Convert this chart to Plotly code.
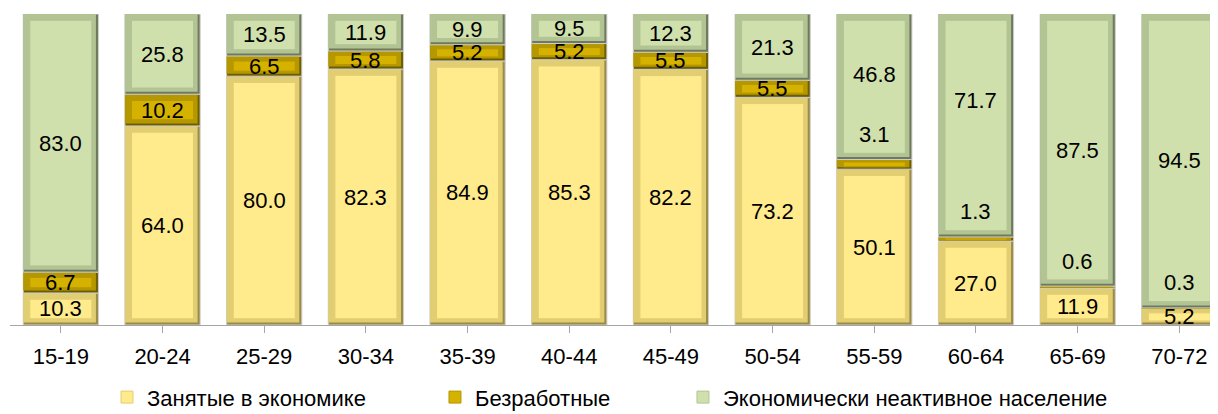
import plotly.graph_objects as go

categories = ["15-19", "20-24", "25-29", "30-34", "35-39", "40-44",
              "45-49", "50-54", "55-59", "60-64", "65-69", "70-72"]
employed = [10.3, 64.0, 80.0, 82.3, 84.9, 85.3, 82.2, 73.2, 50.1, 27.0, 11.9, 5.2]
unemployed = [6.7, 10.2, 6.5, 5.8, 5.2, 5.2, 5.5, 5.5, 3.1, 1.3, 0.6, 0.3]
inactive = [83.0, 25.8, 13.5, 11.9, 9.9, 9.5, 12.3, 21.3, 46.8, 71.7, 87.5, 94.5]
series_names = ["Занятые в экономике", "Безработные", "Экономически неактивное население"]

# label placement tweaks (pixels): unemployed labels moved above tiny segments,
# inactive labels nudged up where needed
unemp_label_above = [False, False, False, False, False, False, False, False, True, True, True, True]
inactive_label_shift = [0, 0, 0, 0, 0, 0, 0, 0, 12, 25, 0, 0]

fills = ["#FFEA8C", "#D6B200", "#D0E0AC"]
frames = ["#E2CE72", "#B59700", "#B2C394"]
shadows = ["#9C8B45", "#6E5E00", "#6F7A5A"]
legend_ids = ["legend", "legend2", "legend3"]

series = [employed, unemployed, inactive]
x = list(range(len(categories)))

FONT_FAMILY = "Liberation Sans Narrow, Arial Narrow, Liberation Sans, Arial, sans-serif"

fig = go.Figure()
bases = [0.0] * len(categories)
all_bases = []
for si, vals in enumerate(series):
    b = list(bases)
    all_bases.append(b)
    # shadow layer (full segment)
    fig.add_trace(go.Bar(
        x=x, y=vals, base=b, width=0.74, offset=-0.37,
        marker=dict(color=shadows[si], line=dict(color="#CFCFCF", width=1)),
        showlegend=False, hoverinfo="skip", legend=legend_ids[si]))
    # frame layer (leaves a dark strip at right and bottom)
    sh = [min(0.8, v * 0.2) for v in vals]
    fig.add_trace(go.Bar(
        x=x, y=[v - s for v, s in zip(vals, sh)], base=[bb + s for bb, s in zip(b, sh)],
        width=0.715, offset=-0.37,
        marker=dict(color=frames[si], line=dict(width=0)),
        showlegend=False, hoverinfo="skip", legend=legend_ids[si]))
    # inner fill
    insets = [min(2.0, v * 0.25) for v in vals]
    fig.add_trace(go.Bar(
        x=x, y=[v - 2 * d for v, d in zip(vals, insets)],
        base=[bb + d for bb, d in zip(b, insets)], width=0.61, offset=-0.305,
        marker=dict(color=fills[si], line=dict(color=frames[si], width=1)),
        name=series_names[si], showlegend=True, legend=legend_ids[si]))
    bases = [bb + v for bb, v in zip(bases, vals)]

font = dict(family=FONT_FAMILY, size=22, color="black")
ann = []
for i in x:
    ann.append(dict(x=i, y=all_bases[0][i] + employed[i] / 2, text=f"{employed[i]:.1f}",
                    showarrow=False, font=font, yanchor="middle"))
    if unemp_label_above[i]:
        ann.append(dict(x=i, y=all_bases[1][i] + unemployed[i], text=f"{unemployed[i]:.1f}",
                        showarrow=False, font=font, yanchor="middle", yshift=25))
    else:
        ann.append(dict(x=i, y=all_bases[1][i] + unemployed[i] / 2, text=f"{unemployed[i]:.1f}",
                        showarrow=False, font=font, yanchor="middle"))
    ann.append(dict(x=i, y=all_bases[2][i] + inactive[i] / 2, text=f"{inactive[i]:.1f}",
                    showarrow=False, font=font, yanchor="middle", yshift=inactive_label_shift[i]))

legend_common = dict(orientation="h", y=-0.300, yanchor="bottom", xanchor="left",
                     font=dict(size=22), itemwidth=30, bgcolor="rgba(0,0,0,0)")

fig.update_layout(
    width=1210, height=406,
    margin=dict(l=2, r=0, t=6, b=89, autoexpand=False),
    barmode="overlay",
    plot_bgcolor="white", paper_bgcolor="white",
    annotations=ann,
    font=dict(family=FONT_FAMILY, size=22, color="black"),
    xaxis=dict(tickmode="array", tickvals=x, ticktext=categories,
               range=[-0.5, 11.38], showline=True, linecolor="#A6A6A6", linewidth=1,
               ticks="outside", tickson="boundaries", ticklen=7, tickcolor="#A6A6A6",
               showgrid=False, zeroline=False, tickfont=dict(size=22),
               ticklabelstandoff=5),
    yaxis=dict(range=[0, 100], visible=False, showgrid=False, zeroline=False),
    legend=dict(x=0.0803, **legend_common),
    legend2=dict(x=0.3518, **legend_common),
    legend3=dict(x=0.5571, **legend_common),
)

fig.write_html("out.html")
